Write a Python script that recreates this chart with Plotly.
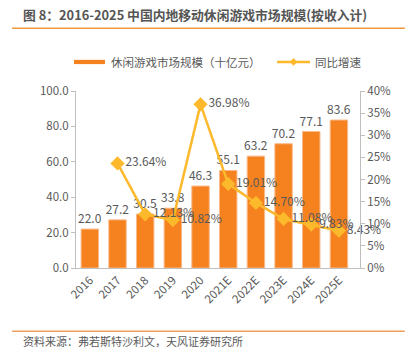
import plotly.graph_objects as go

years = ["2016", "2017", "2018", "2019", "2020", "2021E", "2022E", "2023E", "2024E", "2025E"]
market_size = [22.0, 27.2, 30.5, 33.8, 46.3, 55.1, 63.2, 70.2, 77.1, 83.6]
growth_years = ["2017", "2018", "2019", "2020", "2021E", "2022E", "2023E", "2024E", "2025E"]
growth_pct = [23.64, 12.13, 10.82, 36.98, 19.01, 14.70, 11.08, 9.83, 8.43]

BAR = "#F5821F"
LINE = "#FDB92C"
GREY = "#595959"
FONT = "Noto Sans CJK SC"

fig = go.Figure()
fig.add_trace(go.Bar(
    x=years, y=market_size, name="休闲游戏市场规模（十亿元）",
    marker=dict(color=BAR, line=dict(color="#F9B98A", width=1)),
    width=0.63,
    text=[f"{v:.1f}" for v in market_size], textposition="outside",
    constraintext="none",
    textfont=dict(color=GREY, size=12, family=FONT),
    cliponaxis=False, showlegend=False,
))
fig.add_trace(go.Scatter(
    x=growth_years, y=growth_pct, yaxis="y2", name="同比增速",
    mode="lines+markers+text",
    line=dict(color=LINE, width=2.5),
    marker=dict(symbol="diamond", size=11, color=LINE),
    text=[f"{v:.2f}%" for v in growth_pct], textposition="middle right",
    textfont=dict(color=GREY, size=12, family=FONT),
    cliponaxis=False, showlegend=False,
))

# legend drawn by hand: wide bar swatch and line-with-diamond swatch
shapes = [
    dict(type="line", xref="paper", yref="paper", x0=-0.225, x1=1.158, y0=1.355, y1=1.355,
         line=dict(color="#F39A3C", width=1.5)),
    dict(type="line", xref="paper", yref="paper", x0=-0.225, x1=1.158, y0=-0.357, y1=-0.357,
         line=dict(color="#F0A060", width=1.5)),
    dict(type="rect", xref="paper", yref="paper", x0=-0.007, x1=0.102, y0=1.152, y1=1.176,
         fillcolor=BAR, line=dict(width=0)),
    dict(type="line", xref="paper", yref="paper", x0=0.708, x1=0.824, y0=1.164, y1=1.164,
         line=dict(color=LINE, width=2.5)),
    dict(type="path", xref="paper", yref="paper",
         path="M 0.753 1.164 L 0.766 1.186 L 0.779 1.164 L 0.766 1.142 Z",
         fillcolor=LINE, line=dict(width=0)),
]

annotations = [
    dict(text="<b>图 8：2016-2025 中国内地移动休闲游戏市场规模(按收入计)</b>",
         xref="paper", yref="paper", x=-0.194, y=1.43, xanchor="left", yanchor="middle",
         showarrow=False, font=dict(size=12.8, color="#555555", family=FONT)),
    dict(text="休闲游戏市场规模（十亿元）", xref="paper", yref="paper", x=0.115, y=1.164,
         xanchor="left", yanchor="middle", showarrow=False,
         font=dict(size=11.5, color=GREY, family=FONT)),
    dict(text="同比增速", xref="paper", yref="paper", x=0.835, y=1.164,
         xanchor="left", yanchor="middle", showarrow=False,
         font=dict(size=11.5, color=GREY, family=FONT)),
    dict(text="资料来源：弗若斯特沙利文，天风证券研究所", xref="paper", yref="paper",
         x=-0.194, y=-0.412, xanchor="left", yanchor="middle", showarrow=False,
         font=dict(size=11, color=GREY, family=FONT)),
]

fig.update_layout(
    width=412, height=349,
    margin=dict(l=76, r=52, t=91, b=81),
    paper_bgcolor="white", plot_bgcolor="white",
    font=dict(family=FONT, color=GREY, size=11),
    bargap=0.37,
    xaxis=dict(type="category", tickangle=-45, showline=True, linecolor="#BFBFBF",
               linewidth=1, ticks="", tickfont=dict(size=11.5, color=GREY)),
    yaxis=dict(range=[0, 100], dtick=20, tickformat=".1f", showgrid=False,
               showline=True, linecolor="#BFBFBF", linewidth=1, ticks="outside",
               ticklen=4, tickcolor="#BFBFBF", zeroline=False,
               tickfont=dict(size=11.5, color=GREY)),
    yaxis2=dict(range=[0, 40], dtick=5, ticksuffix="%", overlaying="y", side="right",
                showgrid=False, showline=True, linecolor="#BFBFBF", linewidth=1,
                ticks="outside", ticklen=4, tickcolor="#BFBFBF", zeroline=False,
                tickfont=dict(size=11.5, color=GREY)),
    shapes=shapes, annotations=annotations,
)

fig.write_html("out.html")
